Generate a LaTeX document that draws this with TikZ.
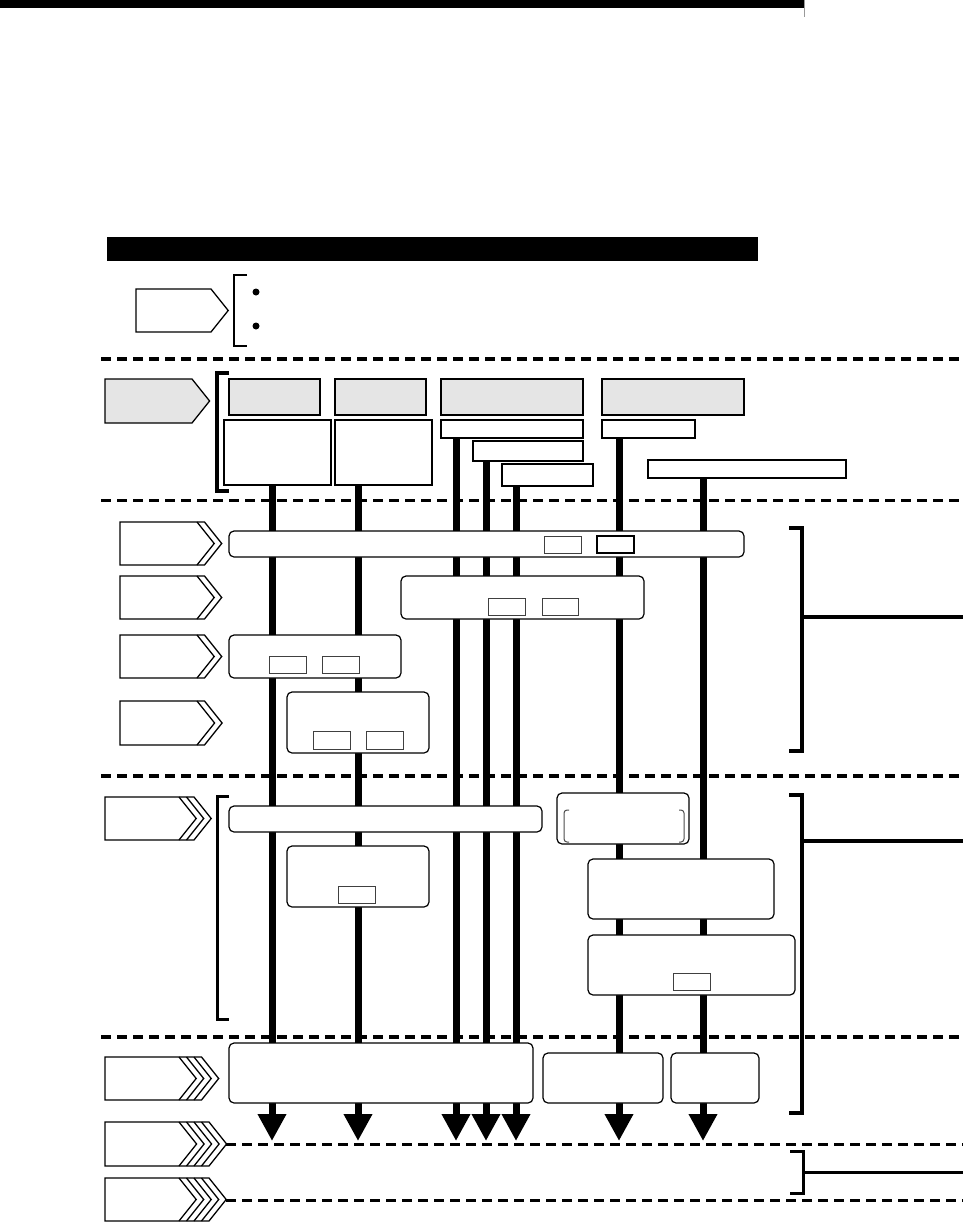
\documentclass[tikz,border=0pt]{standalone}
\usetikzlibrary{arrows.meta,backgrounds}
\newcommand{\mychev}[6]{% x0, x1, ytop, ybot, nlines, fill
  \pgfmathsetmacro{\cvmid}{(#3+#4)/2}
  \pgfmathsetmacro{\cvdx}{(#4-#3)*0.4}
  \pgfmathsetmacro{\cvxo}{#2+(#5-1)*7.5}
  \draw[chevst, fill=#6] (#1,#3) -- (\cvxo,#3) -- ({\cvxo+\cvdx},\cvmid) -- (\cvxo,#4) -- (#1,#4) -- cycle;
  \ifnum#5>1
    \pgfmathtruncatemacro{\cvn}{#5-2}
    \foreach \k in {0,...,\cvn}{
      \draw[chevst] ({#2+\k*7.5},#3) -- ({#2+\k*7.5+\cvdx},\cvmid) -- ({#2+\k*7.5},#4);
    }
  \fi
}
\newcommand{\mybx}[6]{% style, name, x1, y1, x2, y2
  \node[#1, minimum width={(#5)-(#3)}, minimum height={(#6)-(#4)}] (#2) at ({(#3+#5)/2},{(#4+#6)/2}) {};
}
\begin{document}
\begin{tikzpicture}[x=1pt,y=-1pt,
  bx/.style={draw, fill=white, line width=1.2pt, inner sep=0pt, outer sep=0pt},
  gbx/.style={bx, fill=black!10, line width=1.7pt},
  rbx/.style={bx, rounded corners=5pt},
  sbx/.style={bx, draw=black!75, line width=0.9pt},
  vline/.style={line width=7pt},
  arrowline/.style={vline, -{Triangle[width=27pt,length=27pt]}},
  sep/.style={line width=3.5pt, dash pattern=on 9.5pt off 6.5pt},
  thinsep/.style={line width=3pt, dash pattern=on 9.5pt off 6.5pt},
  brk/.style={line width=4pt, line join=miter},
  chevst/.style={draw, line width=1.3pt, line join=miter}
]
\useasboundingbox (0,0) rectangle (963,1223);

% top bar and title bar
\fill[black] (0,0) rectangle (804,8);
\draw[black!40, line width=1pt] (804.5,0) -- (804.5,17);
\fill[black] (107,237) rectangle (758,261);

% legend row
\mychev{136}{211}{289}{332}{1}{white}
\draw[line width=1.5pt] (247,275) -- (234,275) -- (234,346) -- (247,346);
\fill (256,292) circle (3.5);
\fill (256,326) circle (3.5);

% row 2
\mychev{105}{192}{379}{423}{1}{black!10}
\draw[brk] (229,373) -- (217,373) -- (217,491) -- (229,491);
\mybx{gbx}{G1}{229}{379}{320}{415}
\mybx{gbx}{G2}{335}{379}{426}{415}
\mybx{gbx}{G3}{441}{379}{583}{415}
\mybx{gbx}{G4}{602}{379}{744}{415}
\mybx{bx}{W1}{224}{420}{331}{485}
\mybx{bx}{W2}{335}{420}{432}{485}
\mybx{bx}{W3}{441}{420}{583}{438}
\mybx{bx}{W4}{473}{441}{583}{461}
\mybx{bx}{W5}{502}{464}{593}{486}
\mybx{bx}{W6}{602}{420}{695}{438}
\mybx{bx}{W7}{648}{460}{846}{478}

% row 3
\mychev{120}{197}{522}{565}{2}{white}
\mychev{120}{197}{576}{619}{2}{white}
\mychev{120}{197}{635}{678}{2}{white}
\mychev{120}{197}{701}{745}{2}{white}
\mybx{rbx}{R1}{229}{531}{744}{557}
\mybx{sbx}{R1a}{544}{536}{581}{553}
\mybx{bx}{R1b}{597}{536}{634}{553}
\mybx{rbx}{R2}{401}{576}{644}{619}
\mybx{sbx}{R2a}{488}{598}{525}{615}
\mybx{sbx}{R2b}{542}{598}{578}{615}
\mybx{rbx}{R3}{229}{635}{401}{678}
\mybx{sbx}{R3a}{269}{656}{306}{673}
\mybx{sbx}{R3b}{322}{656}{359}{673}
\mybx{rbx}{R4}{287}{692}{429}{753}
\mybx{sbx}{R4a}{313}{731}{350}{749}
\mybx{sbx}{R4b}{366}{731}{403}{749}
\draw[brk] (789,528) -- (802,528) -- (802,751) -- (789,751);
\draw[brk] (802,617) -- (963,617);

% row 4
\mychev{105}{179}{797}{840}{3}{white}
\draw[line width=3pt, line join=miter] (229,796) -- (217,796) -- (217,1019) -- (229,1019);
\mybx{rbx}{S1}{229}{806}{542}{832}
\mybx{rbx}{S2}{287}{846}{429}{907}
\mybx{sbx}{S2a}{338}{886}{375}{903}
\mybx{rbx}{S3}{557}{793}{689}{844}
\draw[black!70, line width=1pt, rounded corners=3pt] (569,810) -- (564,810) -- (564,842) -- (569,842);
\draw[black!70, line width=1pt, rounded corners=3pt] (679,810) -- (684,810) -- (684,842) -- (679,842);
\mybx{rbx}{S4}{588}{859}{774}{919}
\mybx{rbx}{S5}{588}{935}{795}{995}
\mybx{sbx}{S5a}{673}{973}{710}{990}
\draw[brk] (789,795) -- (802,795) -- (802,1113) -- (789,1113);
\draw[brk] (802,841) -- (963,841);

% row 5
\mychev{105}{179}{1057}{1100}{4}{white}
\mybx{rbx}{T1}{229}{1043}{533}{1103}
\mybx{rbx}{T2}{543}{1053}{663}{1103}
\mybx{rbx}{T3}{671}{1053}{759}{1103}

% rows 6, 7
\mychev{105}{179}{1122}{1166}{5}{white}
\mychev{105}{179}{1178}{1221}{5}{white}
\draw[line width=3pt, line join=miter] (790,1151) -- (803,1151) -- (803,1193) -- (790,1193);
\draw[line width=3pt] (803,1172) -- (963,1172);

% arrow end points
\coordinate (eA) at (272,1141);
\coordinate (eB) at (358,1141);
\coordinate (eC) at (456,1141);
\coordinate (eD) at (486,1141);
\coordinate (eE) at (516,1141);
\coordinate (eF) at (619,1141);
\coordinate (eG) at (703,1141);

\begin{pgfonlayer}{background}
  \fill[white] (0,0) rectangle (963,1223);
  \draw[sep] (101,359) -- (963,359);
  \draw[sep] (101,500.5) -- (963,500.5);
  \draw[sep] (101,776) -- (963,776);
  \draw[sep] (101,1037) -- (963,1037);
  \draw[thinsep] (226,1144) -- (963,1144);
  \draw[thinsep] (226,1200) -- (963,1200);
  \draw[arrowline] (W1.center -| eA) -- (eA);
  \draw[arrowline] (W2.center -| eB) -- (eB);
  \draw[arrowline] (W3.center -| eC) -- (eC);
  \draw[arrowline] (W4.center -| eD) -- (eD);
  \draw[arrowline] (W5.center -| eE) -- (eE);
  \draw[arrowline] (W6.center -| eF) -- (eF);
  \draw[arrowline] (W7.center -| eG) -- (eG);
\end{pgfonlayer}
\end{tikzpicture}
\end{document}
